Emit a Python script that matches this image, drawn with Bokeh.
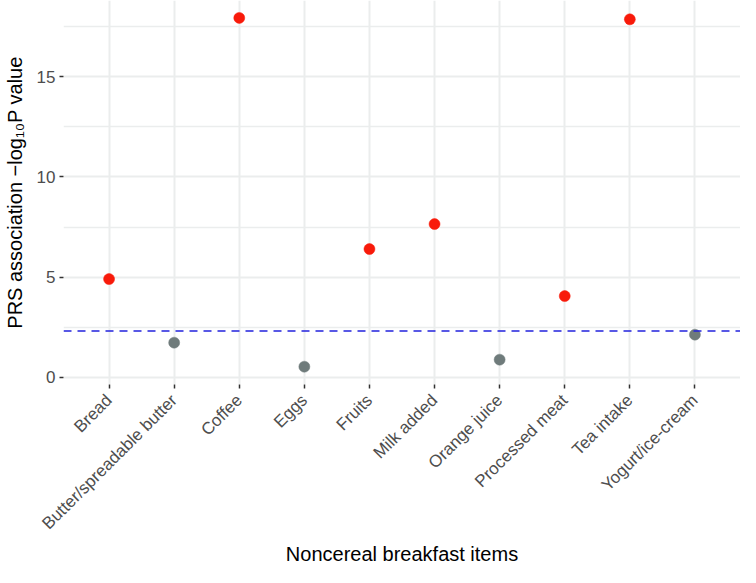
import math
from bokeh.plotting import figure
from bokeh.models import ColumnDataSource, FactorRange, Range1d, FixedTicker, Span
from bokeh.embed import file_html
from bokeh.resources import INLINE

# ---- data ----
items = ["Bread", "Butter/spreadable butter", "Coffee", "Eggs", "Fruits",
         "Milk added", "Orange juice", "Processed meat", "Tea intake", "Yogurt/ice-cream"]
neg_log10_p = [4.9, 1.72, 17.95, 0.52, 6.4, 7.65, 0.87, 4.05, 17.88, 2.12]
threshold = 2.3
y_ticks = [0, 5, 10, 15]
y_minor_ticks = [2.5, 7.5, 12.5, 17.5]
x_title = "Noncereal breakfast items"
y_title = "PRS association \u2212log\u2081\u2080P value"

RED = "#F81A0A"
GREY = "#6F7B7B"
colors = [RED if v > threshold else GREY for v in neg_log10_p]
src = ColumnDataSource(dict(x=items, y=neg_log10_p, c=colors))

FONT = "Liberation Sans"
W, H = 740, 567

p = figure(width=W, height=H,
           x_range=FactorRange(factors=items, range_padding=0.2, range_padding_units="absolute"),
           y_range=Range1d(-0.37, 18.82),
           output_backend="svg", toolbar_location=None,
           min_border_left=54, min_border_right=0, min_border_top=0, min_border_bottom=170)
p.outline_line_color = None
p.background_fill_color = "white"
p.border_fill_color = "white"

# grids
p.xgrid.grid_line_color = "#EBEDED"
p.xgrid.grid_line_width = 2
p.ygrid.grid_line_color = "#EBEDED"
p.ygrid.grid_line_width = 2
p.ygrid.minor_grid_line_color = "#EBEDED"
p.ygrid.minor_grid_line_width = 1.5

# y axis
p.yaxis.ticker = FixedTicker(ticks=y_ticks, minor_ticks=y_minor_ticks)
p.yaxis.axis_line_color = None
p.yaxis.minor_tick_line_color = None
p.yaxis.major_tick_in = 0
p.yaxis.major_tick_out = 4
p.yaxis.major_tick_line_color = "#333333"
p.yaxis.major_tick_line_width = 1.5
p.yaxis.major_label_text_font = FONT
p.yaxis.major_label_text_font_size = "17px"
p.yaxis.major_label_text_color = "#4D4D4D"
p.yaxis.major_label_standoff = 4
p.yaxis.axis_label = y_title
p.yaxis.axis_label_text_font = FONT
p.yaxis.axis_label_text_font_size = "20px"
p.yaxis.axis_label_text_font_style = "normal"
p.yaxis.axis_label_text_color = "black"
p.yaxis.axis_label_standoff = 8

# x axis
p.xaxis.axis_line_color = None
p.xaxis.major_tick_in = 0
p.xaxis.major_tick_out = 4
p.xaxis.major_tick_line_color = "#333333"
p.xaxis.major_tick_line_width = 1.5
p.xaxis.major_label_orientation = math.pi / 4
p.xaxis.major_label_text_font = FONT
p.xaxis.major_label_text_font_size = "17px"
p.xaxis.major_label_text_color = "#4D4D4D"
p.xaxis.major_label_standoff = 9
p.xaxis.axis_label = x_title
p.xaxis.axis_label_text_font = FONT
p.xaxis.axis_label_text_font_size = "20px"
p.xaxis.axis_label_text_font_style = "normal"
p.xaxis.axis_label_text_color = "black"
p.xaxis.axis_label_standoff = 0

# threshold line
p.add_layout(Span(location=threshold, dimension="width", line_color="#2222DD",
                  line_width=1.5, line_dash="8 6"))

# points
p.scatter("x", "y", source=src, size=11, fill_color="c", line_color="c", line_width=0.5)

open("out.html", "w").write(file_html(p, INLINE))
